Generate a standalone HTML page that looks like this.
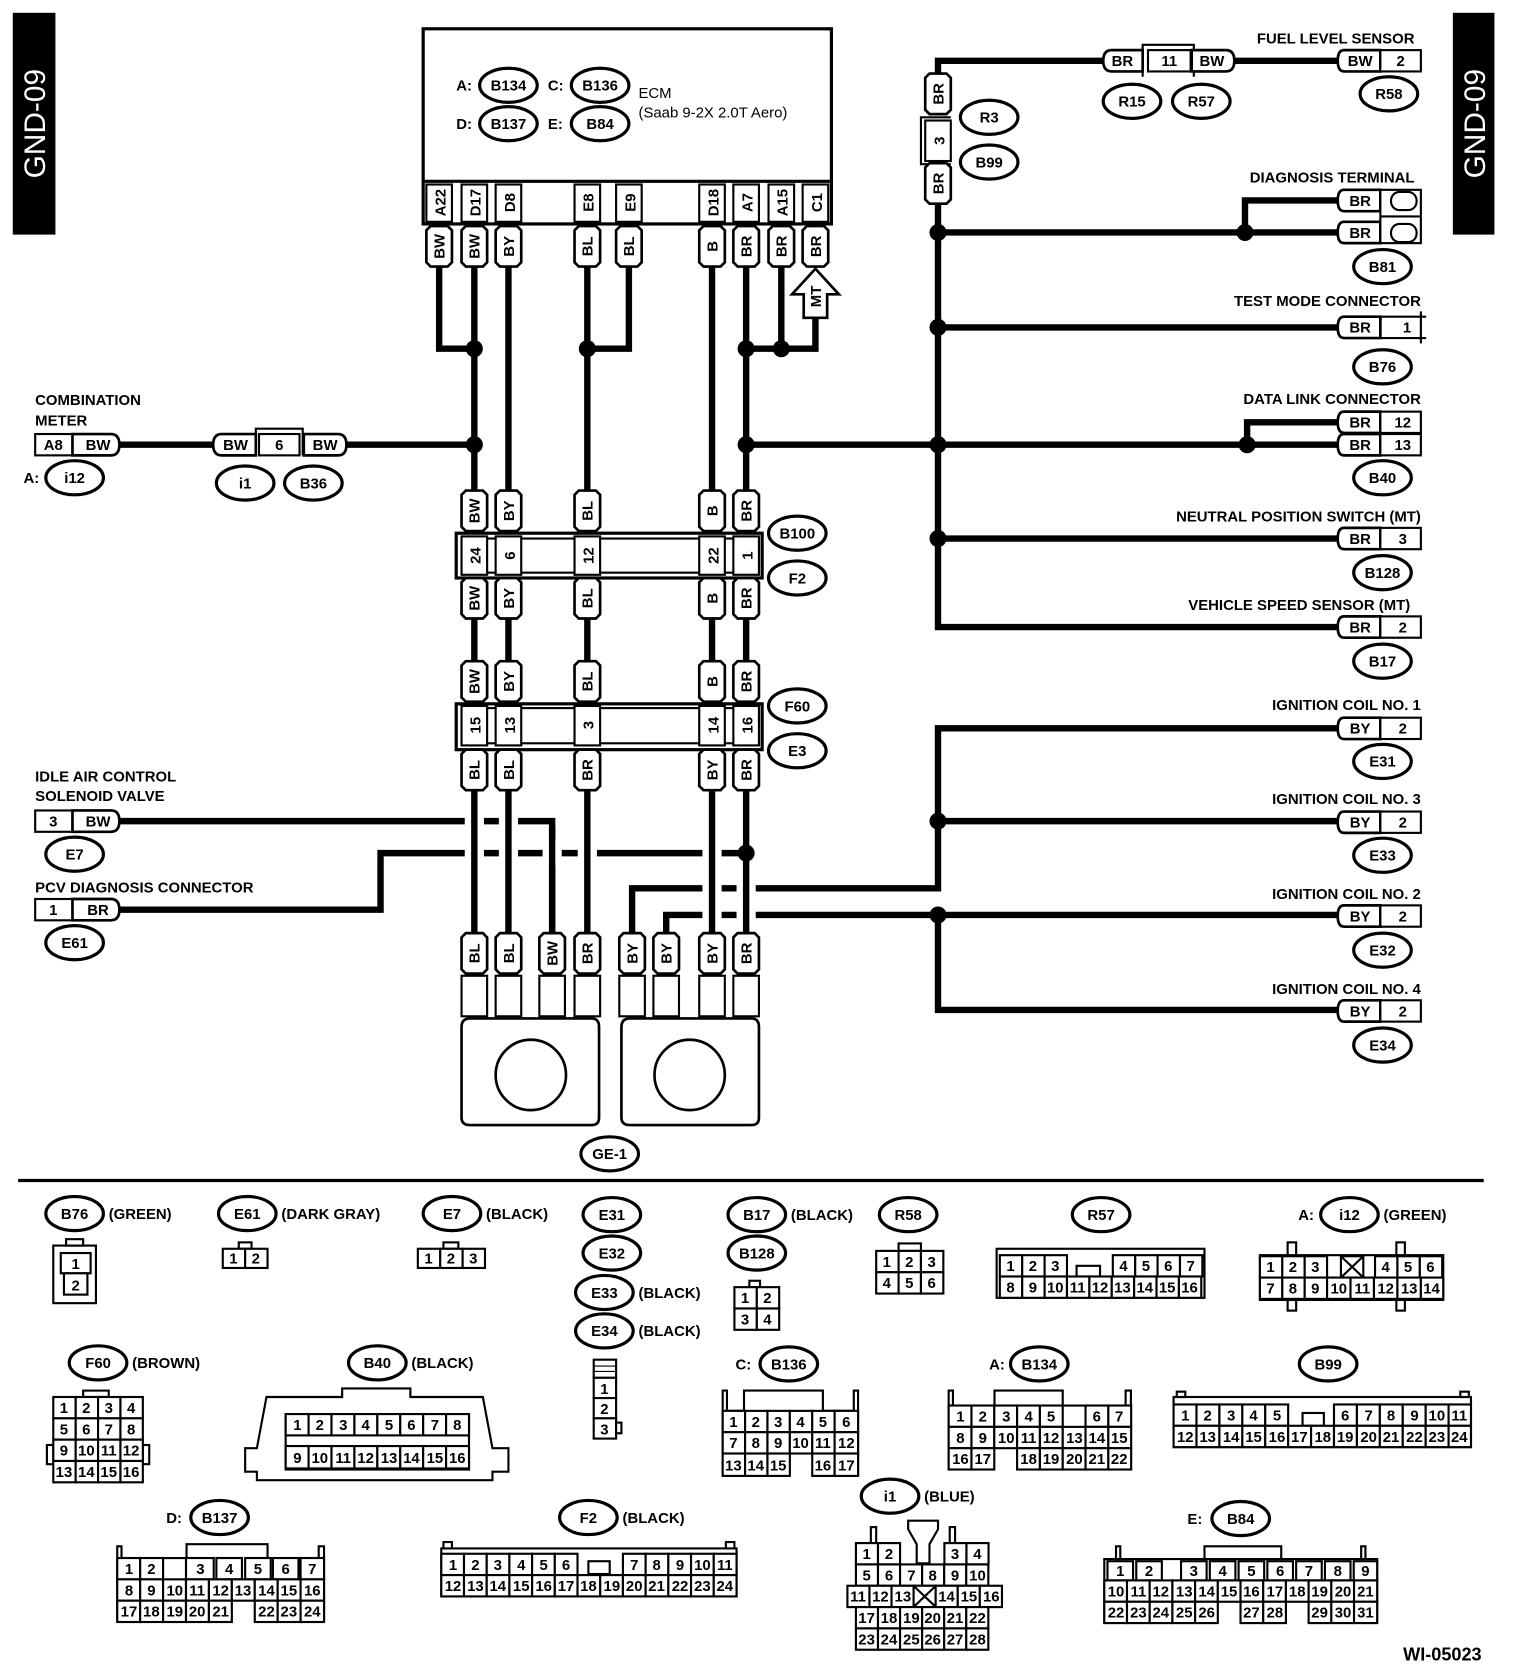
<!DOCTYPE html>
<html><head><meta charset="utf-8"><style>
html,body{margin:0;padding:0;background:#fff}
svg{display:block}
text{font-family:"Liberation Sans",sans-serif;font-weight:bold;fill:#000}
.w{fill:none;stroke:#000;stroke-width:6;stroke-linejoin:miter}
.h{fill:none;stroke:#fff;stroke-width:18}
.o{fill:#fff;stroke:#000;stroke-width:2.5}
.c{fill:#fff;stroke:#000;stroke-width:2}
.n{font-size:14px;text-anchor:middle}
.s{font-size:14px}
.e{font-size:14px;text-anchor:middle}
.r{text-anchor:end;font-size:14px}
</style></head><body>
<svg width="1520" height="1670" viewBox="0 0 1426 1566" preserveAspectRatio="none" xmlns="http://www.w3.org/2000/svg">
<defs>
<path id="vt" d="M-8,-19 H8 L12,-15 V15 L8,19 H-8 L-12,15 V-15 Z" fill="#fff" stroke="#000" stroke-width="2.5"/>
<path id="ht" d="M-14,-10 H20 V10 H-14 Q-20,10 -20,0 Q-20,-10 -14,-10 Z" fill="#fff" stroke="#000" stroke-width="2.5"/>
<ellipse id="el" rx="27" ry="16" fill="#fff" stroke="#000" stroke-width="3"/>
</defs>

<rect x="12" y="12" width="40" height="208" fill="#000"/>
<text transform="translate(42,116) rotate(-90)" text-anchor="middle" style="fill:#fff;font-weight:normal;font-size:28px">GND-09</text>
<rect x="1363" y="12" width="39" height="208" fill="#000"/>
<text transform="translate(1393,116) rotate(-90)" text-anchor="middle" style="fill:#fff;font-weight:normal;font-size:28px">GND-09</text>

<rect x="397" y="27" width="383" height="183" fill="#fff" stroke="#000" stroke-width="3"/>
<line x1="397" y1="170" x2="780" y2="170" stroke="#000" stroke-width="3"/>
<text x="428" y="85" class="s">A:</text><use href="#el" x="477" y="80"/><text x="477" y="85" class="e">B134</text>
<text x="514" y="85" class="s">C:</text><use href="#el" x="563" y="80"/><text x="563" y="85" class="e">B136</text>
<text x="428" y="121" class="s">D:</text><use href="#el" x="477" y="116"/><text x="477" y="121" class="e">B137</text>
<text x="514" y="121" class="s">E:</text><use href="#el" x="563" y="116"/><text x="563" y="121" class="e">B84</text>
<text x="599" y="92" class="s" style="font-weight:normal">ECM</text>
<text x="599" y="110" class="s" style="font-weight:normal">(Saab 9-2X 2.0T Aero)</text>
<g>
<rect x="400" y="173" width="24" height="35" class="c"/><text transform="translate(418,190) rotate(-90)" class="n">A22</text>
<rect x="433" y="173" width="24" height="35" class="c"/><text transform="translate(451,190) rotate(-90)" class="n">D17</text>
<rect x="465" y="173" width="24" height="35" class="c"/><text transform="translate(483,190) rotate(-90)" class="n">D8</text>
<rect x="539" y="173" width="24" height="35" class="c"/><text transform="translate(557,190) rotate(-90)" class="n">E8</text>
<rect x="578" y="173" width="24" height="35" class="c"/><text transform="translate(596,190) rotate(-90)" class="n">E9</text>
<rect x="656" y="173" width="24" height="35" class="c"/><text transform="translate(674,190) rotate(-90)" class="n">D18</text>
<rect x="688" y="173" width="24" height="35" class="c"/><text transform="translate(706,190) rotate(-90)" class="n">A7</text>
<rect x="721" y="173" width="24" height="35" class="c"/><text transform="translate(739,190) rotate(-90)" class="n">A15</text>
<rect x="753" y="173" width="24" height="35" class="c"/><text transform="translate(771,190) rotate(-90)" class="n">C1</text>
</g>

<path class="w" d="M412,250 V327 H445 M445,250 V460 M477,250 V460 M551,250 V460 M590,250 V327 H551 M668,250 V460 M700,250 V460 M733,250 V327 M765,296 V327 H700"/>
<path class="w" d="M445,580 V620 M477,580 V620 M551,580 V620 M668,580 V620 M700,580 V620"/>
<path class="w" d="M112,417 H200 M325,417 H445 M700,417 H1255 M1170,417 V396 H1255"/>
<path class="w" d="M1035,57 H880 V70 M880,190 V588 H1255 M880,218 H1255 M1168,218 V188 H1255 M880,307 H1255 M880,505 H1255 M1158,57 H1255"/>
<polygon points="765,252 787,276 776,276 776,298 754,298 754,276 743,276" fill="#fff" stroke="#000" stroke-width="2.5"/>
<text transform="translate(770,278) rotate(-90)" class="n">MT</text>

<path class="w" d="M112,770 H518 V875 M112,853 H357 V800 H700 M1255,683 H880 V833 H593 V875 M880,770 H1255 M625,875 V858 H1255 M880,858 V947 H1255"/>
<path class="h" d="M445,755 V870 M477,755 V870 M551,755 V870 M668,755 V870 M518,788 V812 M700,820 V870"/>
<path class="w" d="M445,741 V875 M477,741 V875 M551,741 V875 M668,741 V875 M700,741 V875 M518,775 V875"/>

<g fill="#000">
<circle cx="445" cy="327" r="8"/><circle cx="551" cy="327" r="8"/><circle cx="700" cy="327" r="8"/><circle cx="733" cy="327" r="8"/>
<circle cx="445" cy="417" r="8"/><circle cx="700" cy="417" r="8"/><circle cx="880" cy="218" r="8"/><circle cx="1168" cy="218" r="8"/>
<circle cx="880" cy="307" r="8"/><circle cx="880" cy="417" r="8"/><circle cx="1170" cy="417" r="8"/><circle cx="880" cy="505" r="8"/>
<circle cx="700" cy="800" r="8"/><circle cx="880" cy="770" r="8"/><circle cx="880" cy="858" r="8"/>
</g>

<g>
<use href="#vt" x="412" y="231"/><text transform="translate(417,231) rotate(-90)" class="n">BW</text>
<use href="#vt" x="445" y="231"/><text transform="translate(450,231) rotate(-90)" class="n">BW</text>
<use href="#vt" x="477" y="231"/><text transform="translate(482,231) rotate(-90)" class="n">BY</text>
<use href="#vt" x="551" y="231"/><text transform="translate(556,231) rotate(-90)" class="n">BL</text>
<use href="#vt" x="590" y="231"/><text transform="translate(595,231) rotate(-90)" class="n">BL</text>
<use href="#vt" x="668" y="231"/><text transform="translate(673,231) rotate(-90)" class="n">B</text>
<use href="#vt" x="700" y="231"/><text transform="translate(705,231) rotate(-90)" class="n">BR</text>
<use href="#vt" x="733" y="231"/><text transform="translate(738,231) rotate(-90)" class="n">BR</text>
<use href="#vt" x="765" y="231"/><text transform="translate(770,231) rotate(-90)" class="n">BR</text>
</g>

<g>
<use href="#vt" x="445" y="479"/><text transform="translate(450,479) rotate(-90)" class="n">BW</text>
<use href="#vt" x="477" y="479"/><text transform="translate(482,479) rotate(-90)" class="n">BY</text>
<use href="#vt" x="551" y="479"/><text transform="translate(556,479) rotate(-90)" class="n">BL</text>
<use href="#vt" x="668" y="479"/><text transform="translate(673,479) rotate(-90)" class="n">B</text>
<use href="#vt" x="700" y="479"/><text transform="translate(705,479) rotate(-90)" class="n">BR</text>
<rect x="428" y="500" width="287" height="42" fill="#fff" stroke="#000" stroke-width="3"/>
<rect x="433" y="505" width="278" height="32" fill="none" stroke="#000" stroke-width="2"/>
<rect x="433" y="503" width="24" height="36" class="c"/><text transform="translate(451,521) rotate(-90)" class="n">24</text>
<rect x="465" y="503" width="24" height="36" class="c"/><text transform="translate(483,521) rotate(-90)" class="n">6</text>
<rect x="539" y="503" width="24" height="36" class="c"/><text transform="translate(557,521) rotate(-90)" class="n">12</text>
<rect x="656" y="503" width="24" height="36" class="c"/><text transform="translate(674,521) rotate(-90)" class="n">22</text>
<rect x="688" y="503" width="24" height="36" class="c"/><text transform="translate(706,521) rotate(-90)" class="n">1</text>
<use href="#vt" x="445" y="561"/><text transform="translate(450,561) rotate(-90)" class="n">BW</text>
<use href="#vt" x="477" y="561"/><text transform="translate(482,561) rotate(-90)" class="n">BY</text>
<use href="#vt" x="551" y="561"/><text transform="translate(556,561) rotate(-90)" class="n">BL</text>
<use href="#vt" x="668" y="561"/><text transform="translate(673,561) rotate(-90)" class="n">B</text>
<use href="#vt" x="700" y="561"/><text transform="translate(705,561) rotate(-90)" class="n">BR</text>
<use href="#el" x="748" y="500"/><text x="748" y="505" class="e">B100</text>
<use href="#el" x="748" y="542"/><text x="748" y="547" class="e">F2</text>
</g>

<g>
<use href="#vt" x="445" y="639"/><text transform="translate(450,639) rotate(-90)" class="n">BW</text>
<use href="#vt" x="477" y="639"/><text transform="translate(482,639) rotate(-90)" class="n">BY</text>
<use href="#vt" x="551" y="639"/><text transform="translate(556,639) rotate(-90)" class="n">BL</text>
<use href="#vt" x="668" y="639"/><text transform="translate(673,639) rotate(-90)" class="n">B</text>
<use href="#vt" x="700" y="639"/><text transform="translate(705,639) rotate(-90)" class="n">BR</text>
<rect x="428" y="660" width="287" height="43" fill="#fff" stroke="#000" stroke-width="3"/>
<rect x="433" y="664" width="278" height="33" fill="none" stroke="#000" stroke-width="2"/>
<rect x="433" y="662" width="24" height="37" class="c"/><text transform="translate(451,680) rotate(-90)" class="n">15</text>
<rect x="465" y="662" width="24" height="37" class="c"/><text transform="translate(483,680) rotate(-90)" class="n">13</text>
<rect x="539" y="662" width="24" height="37" class="c"/><text transform="translate(557,680) rotate(-90)" class="n">3</text>
<rect x="656" y="662" width="24" height="37" class="c"/><text transform="translate(674,680) rotate(-90)" class="n">14</text>
<rect x="688" y="662" width="24" height="37" class="c"/><text transform="translate(706,680) rotate(-90)" class="n">16</text>
<use href="#vt" x="445" y="722"/><text transform="translate(450,722) rotate(-90)" class="n">BL</text>
<use href="#vt" x="477" y="722"/><text transform="translate(482,722) rotate(-90)" class="n">BL</text>
<use href="#vt" x="551" y="722"/><text transform="translate(556,722) rotate(-90)" class="n">BR</text>
<use href="#vt" x="668" y="722"/><text transform="translate(673,722) rotate(-90)" class="n">BY</text>
<use href="#vt" x="700" y="722"/><text transform="translate(705,722) rotate(-90)" class="n">BR</text>
<use href="#el" x="748" y="662"/><text x="748" y="667" class="e">F60</text>
<use href="#el" x="748" y="704"/><text x="748" y="709" class="e">E3</text>
</g>

<g>
<path d="M441,955 H555 Q562,955 562,963 V1048 Q562,1055 555,1055 H441 Q433,1055 433,1048 V963 Q433,955 441,955 Z" fill="#fff" stroke="#000" stroke-width="2.5"/>
<circle cx="498" cy="1008" r="33" fill="#fff" stroke="#000" stroke-width="2.5"/>
<path d="M591,955 H705 Q712,955 712,963 V1048 Q712,1055 705,1055 H591 Q583,1055 583,1048 V963 Q583,955 591,955 Z" fill="#fff" stroke="#000" stroke-width="2.5"/>
<circle cx="647" cy="1008" r="33" fill="#fff" stroke="#000" stroke-width="2.5"/>
<rect x="433" y="915" width="24" height="38" class="c"/><rect x="465" y="915" width="24" height="38" class="c"/>
<rect x="506" y="915" width="24" height="38" class="c"/><rect x="539" y="915" width="24" height="38" class="c"/>
<rect x="581" y="915" width="24" height="38" class="c"/><rect x="613" y="915" width="24" height="38" class="c"/>
<rect x="656" y="915" width="24" height="38" class="c"/><rect x="688" y="915" width="24" height="38" class="c"/>
<use href="#vt" x="445" y="894"/><text transform="translate(450,894) rotate(-90)" class="n">BL</text>
<use href="#vt" x="477" y="894"/><text transform="translate(482,894) rotate(-90)" class="n">BL</text>
<use href="#vt" x="518" y="894"/><text transform="translate(523,894) rotate(-90)" class="n">BW</text>
<use href="#vt" x="551" y="894"/><text transform="translate(556,894) rotate(-90)" class="n">BR</text>
<use href="#vt" x="593" y="894"/><text transform="translate(598,894) rotate(-90)" class="n">BY</text>
<use href="#vt" x="625" y="894"/><text transform="translate(630,894) rotate(-90)" class="n">BY</text>
<use href="#vt" x="668" y="894"/><text transform="translate(673,894) rotate(-90)" class="n">BY</text>
<use href="#vt" x="700" y="894"/><text transform="translate(705,894) rotate(-90)" class="n">BR</text>
<use href="#el" x="572" y="1082"/><text x="572" y="1087" class="e">GE-1</text>
</g>

<g>
<text x="33" y="380" class="s">COMBINATION</text><text x="33" y="399" class="s">METER</text>
<rect x="33" y="407" width="35" height="20" class="c"/><text x="50" y="422" class="n">A8</text>
<path d="M68,407 H104 Q112,407 112,417 Q112,427 104,427 H68 Z" class="o"/><text x="92" y="422" class="n">BW</text>
<text x="22" y="453" class="s">A:</text><use href="#el" x="70" y="448"/><text x="70" y="453" class="e">i12</text>
<path d="M208,407 H240 V427 H208 Q200,427 200,417 Q200,407 208,407 Z" class="o"/><text x="221" y="422" class="n">BW</text>
<rect x="243" y="407" width="38" height="20" class="c"/><text x="262" y="422" class="n">6</text>
<path d="M240,427 V402 H284 V427" fill="none" stroke="#000" stroke-width="2"/>
<path d="M285,407 H317 Q325,407 325,417 Q325,427 317,427 H285 Z" class="o"/><text x="305" y="422" class="n">BW</text>
<use href="#el" x="230" y="453"/><text x="230" y="458" class="e">i1</text>
<use href="#el" x="294" y="453"/><text x="294" y="458" class="e">B36</text>

<text x="33" y="733" class="s">IDLE AIR CONTROL</text><text x="33" y="751" class="s">SOLENOID VALVE</text>
<rect x="33" y="760" width="35" height="20" class="c"/><text x="50" y="775" class="n">3</text>
<path d="M68,760 H104 Q112,760 112,770 Q112,780 104,780 H68 Z" class="o"/><text x="92" y="775" class="n">BW</text>
<use href="#el" x="70" y="801"/><text x="70" y="806" class="e">E7</text>
<text x="33" y="837" class="s">PCV DIAGNOSIS CONNECTOR</text>
<rect x="33" y="843" width="35" height="20" class="c"/><text x="50" y="858" class="n">1</text>
<path d="M68,843 H104 Q112,843 112,853 Q112,863 104,863 H68 Z" class="o"/><text x="92" y="858" class="n">BR</text>
<use href="#el" x="70" y="884"/><text x="70" y="889" class="e">E61</text>
</g>

<g>
<use href="#vt" x="880" y="88"/><text transform="translate(885,88) rotate(-90)" class="n">BR</text>
<rect x="868" y="113" width="24" height="38" class="c"/><text transform="translate(886,132) rotate(-90)" class="n">3</text>
<path d="M892,110 H864 V154 H892" fill="none" stroke="#000" stroke-width="2"/>
<use href="#vt" x="880" y="172"/><text transform="translate(885,172) rotate(-90)" class="n">BR</text>
<use href="#el" x="928" y="110"/><text x="928" y="115" class="e">R3</text>
<use href="#el" x="928" y="152"/><text x="928" y="157" class="e">B99</text>
</g>

<g>
<text x="1327" y="41" class="r">FUEL LEVEL SENSOR</text>
<path d="M1043,47 H1072 V67 H1043 Q1035,67 1035,57 Q1035,47 1043,47 Z" class="o"/><text x="1053" y="62" class="n">BR</text>
<path d="M1072,72 V42 H1120 V72" fill="none" stroke="#000" stroke-width="2"/>
<rect x="1077" y="47" width="40" height="20" class="c"/><text x="1097" y="62" class="n">11</text>
<path d="M1118,47 H1150 Q1158,47 1158,57 Q1158,67 1150,67 H1118 Z" class="o"/><text x="1137" y="62" class="n">BW</text>
<use href="#ht" x="1275" y="57"/><text x="1276" y="62" class="n">BW</text>
<rect x="1295" y="47" width="38" height="20" class="c"/><text x="1314" y="62" class="n">2</text>
<use href="#el" x="1062" y="95"/><text x="1062" y="100" class="e">R15</text>
<use href="#el" x="1127" y="95"/><text x="1127" y="100" class="e">R57</text>
<use href="#el" x="1303" y="88"/><text x="1303" y="93" class="e">R58</text>
</g>

<g>
<text x="1327" y="171" class="r">DIAGNOSIS TERMINAL</text>
<use href="#ht" x="1275" y="188"/><text x="1276" y="193" class="n">BR</text>
<use href="#ht" x="1275" y="218"/><text x="1276" y="223" class="n">BR</text>
<rect x="1295" y="178" width="38" height="50" class="c"/><line x1="1295" y1="203" x2="1333" y2="203" stroke="#000" stroke-width="2"/>
<rect x="1305" y="180" width="24" height="17" rx="8" class="c"/><rect x="1305" y="210" width="24" height="17" rx="8" class="c"/>
<use href="#el" x="1297" y="250"/><text x="1297" y="255" class="e">B81</text>

<text x="1333" y="287" class="r">TEST MODE CONNECTOR</text>
<use href="#ht" x="1275" y="307"/><text x="1276" y="312" class="n">BR</text>
<path d="M1295,297 H1338 M1295,317 H1338 M1295,297 V317 M1333,292 V322" fill="none" stroke="#000" stroke-width="2"/>
<text x="1320" y="312" class="n">1</text>
<use href="#el" x="1297" y="344"/><text x="1297" y="349" class="e">B76</text>

<text x="1333" y="379" class="r">DATA LINK CONNECTOR</text>
<use href="#ht" x="1275" y="396"/><text x="1276" y="401" class="n">BR</text>
<rect x="1295" y="386" width="38" height="20" class="c"/><text x="1316" y="401" class="n">12</text>
<use href="#ht" x="1275" y="417"/><text x="1276" y="422" class="n">BR</text>
<rect x="1295" y="407" width="38" height="20" class="c"/><text x="1316" y="422" class="n">13</text>
<use href="#el" x="1297" y="448"/><text x="1297" y="453" class="e">B40</text>

<text x="1333" y="489" class="r">NEUTRAL POSITION SWITCH (MT)</text>
<use href="#ht" x="1275" y="505"/><text x="1276" y="510" class="n">BR</text>
<rect x="1295" y="495" width="38" height="20" class="c"/><text x="1316" y="510" class="n">3</text>
<use href="#el" x="1297" y="537"/><text x="1297" y="542" class="e">B128</text>

<text x="1323" y="572" class="r">VEHICLE SPEED SENSOR (MT)</text>
<use href="#ht" x="1275" y="588"/><text x="1276" y="593" class="n">BR</text>
<rect x="1295" y="578" width="38" height="20" class="c"/><text x="1316" y="593" class="n">2</text>
<use href="#el" x="1297" y="620"/><text x="1297" y="625" class="e">B17</text>

<text x="1333" y="666" class="r">IGNITION COIL NO. 1</text>
<use href="#ht" x="1275" y="683"/><text x="1276" y="688" class="n">BY</text>
<rect x="1295" y="673" width="38" height="20" class="c"/><text x="1316" y="688" class="n">2</text>
<use href="#el" x="1297" y="714"/><text x="1297" y="719" class="e">E31</text>

<text x="1333" y="754" class="r">IGNITION COIL NO. 3</text>
<use href="#ht" x="1275" y="771"/><text x="1276" y="776" class="n">BY</text>
<rect x="1295" y="761" width="38" height="20" class="c"/><text x="1316" y="776" class="n">2</text>
<use href="#el" x="1297" y="802"/><text x="1297" y="807" class="e">E33</text>

<text x="1333" y="843" class="r">IGNITION COIL NO. 2</text>
<use href="#ht" x="1275" y="859"/><text x="1276" y="864" class="n">BY</text>
<rect x="1295" y="849" width="38" height="20" class="c"/><text x="1316" y="864" class="n">2</text>
<use href="#el" x="1297" y="891"/><text x="1297" y="896" class="e">E32</text>

<text x="1333" y="932" class="r">IGNITION COIL NO. 4</text>
<use href="#ht" x="1275" y="948"/><text x="1276" y="953" class="n">BY</text>
<rect x="1295" y="938" width="38" height="20" class="c"/><text x="1316" y="953" class="n">2</text>
<use href="#el" x="1297" y="980"/><text x="1297" y="985" class="e">E34</text>
</g>

<line x1="17" y1="1107" x2="1392" y2="1107" stroke="#000" stroke-width="3"/>

<g>
<use href="#el" x="70" y="1138"/><text x="70" y="1143" class="e">B76</text><text x="102" y="1143" class="s">(GREEN)</text>
<use href="#el" x="232" y="1138"/><text x="232" y="1143" class="e">E61</text><text x="264" y="1143" class="s">(DARK GRAY)</text>
<use href="#el" x="424" y="1138"/><text x="424" y="1143" class="e">E7</text><text x="456" y="1143" class="s">(BLACK)</text>
<use href="#el" x="574" y="1139"/><text x="574" y="1144" class="e">E31</text>
<use href="#el" x="574" y="1175"/><text x="574" y="1180" class="e">E32</text>
<use href="#el" x="567" y="1212"/><text x="567" y="1217" class="e">E33</text><text x="599" y="1217" class="s">(BLACK)</text>
<use href="#el" x="567" y="1248"/><text x="567" y="1253" class="e">E34</text><text x="599" y="1253" class="s">(BLACK)</text>
<use href="#el" x="710" y="1139"/><text x="710" y="1144" class="e">B17</text><text x="742" y="1144" class="s">(BLACK)</text>
<use href="#el" x="710" y="1175"/><text x="710" y="1180" class="e">B128</text>
<use href="#el" x="852" y="1139"/><text x="852" y="1144" class="e">R58</text>
<use href="#el" x="1033" y="1139"/><text x="1033" y="1144" class="e">R57</text>
<text x="1218" y="1144" class="s">A:</text><use href="#el" x="1266" y="1139"/><text x="1266" y="1144" class="e">i12</text><text x="1298" y="1144" class="s">(GREEN)</text>
<use href="#el" x="92" y="1278"/><text x="92" y="1283" class="e">F60</text><text x="124" y="1283" class="s">(BROWN)</text>
<use href="#el" x="354" y="1278"/><text x="354" y="1283" class="e">B40</text><text x="386" y="1283" class="s">(BLACK)</text>
<text x="690" y="1284" class="s">C:</text><use href="#el" x="740" y="1279"/><text x="740" y="1284" class="e">B136</text>
<text x="928" y="1284" class="s">A:</text><use href="#el" x="975" y="1279"/><text x="975" y="1284" class="e">B134</text>
<use href="#el" x="1246" y="1279"/><text x="1246" y="1284" class="e">B99</text>
<text x="156" y="1428" class="s">D:</text><use href="#el" x="206" y="1423"/><text x="206" y="1428" class="e">B137</text>
<use href="#el" x="552" y="1423"/><text x="552" y="1428" class="e">F2</text><text x="584" y="1428" class="s">(BLACK)</text>
<use href="#el" x="835" y="1403"/><text x="835" y="1408" class="e">i1</text><text x="867" y="1408" class="s">(BLUE)</text>
<text x="1114" y="1429" class="s">E:</text><use href="#el" x="1164" y="1424"/><text x="1164" y="1429" class="e">B84</text>
<text x="1390" y="1557" class="r" style="font-size:17px">WI-05023</text>
</g>

<g class="cells">
<rect x="50" y="1168" width="40" height="54" class="c"/><rect x="62" y="1162" width="16" height="6" class="c"/>
<rect x="57" y="1175" width="28" height="19" class="c"/><text x="71" y="1190" class="n">1</text>
<rect x="60" y="1194" width="22" height="20" class="c"/><text x="71" y="1210" class="n">2</text>
<rect x="224" y="1165" width="12" height="6" class="c"/>
<rect x="209" y="1171" width="21" height="18" class="c"/><text x="219" y="1185" class="n">1</text>
<rect x="230" y="1171" width="21" height="18" class="c"/><text x="240" y="1185" class="n">2</text>
<rect x="416" y="1165" width="14" height="6" class="c"/>
<rect x="392" y="1171" width="21" height="18" class="c"/><text x="402" y="1185" class="n">1</text>
<rect x="413" y="1171" width="21" height="18" class="c"/><text x="423" y="1185" class="n">2</text>
<rect x="434" y="1171" width="21" height="18" class="c"/><text x="444" y="1185" class="n">3</text>
<rect x="557" y="1275" width="21" height="17" class="c"/><line x1="557" y1="1281" x2="578" y2="1281" stroke="#000"/><line x1="557" y1="1286" x2="578" y2="1286" stroke="#000"/>
<rect x="557" y="1292" width="21" height="19" class="c"/><text x="567" y="1307" class="n">1</text>
<rect x="557" y="1311" width="21" height="19" class="c"/><text x="567" y="1326" class="n">2</text>
<rect x="557" y="1330" width="21" height="19" class="c"/><text x="567" y="1345" class="n">3</text>
<rect x="578" y="1334" width="5" height="10" class="c"/>
<rect x="703" y="1201" width="10" height="6" class="c"/>
<rect x="689" y="1207" width="21" height="20" class="c"/><text x="699" y="1222" class="n">1</text>
<rect x="710" y="1207" width="21" height="20" class="c"/><text x="720" y="1222" class="n">2</text>
<rect x="689" y="1227" width="21" height="20" class="c"/><text x="699" y="1242" class="n">3</text>
<rect x="710" y="1227" width="21" height="20" class="c"/><text x="720" y="1242" class="n">4</text>
<rect x="843" y="1166" width="21" height="7" class="c"/>
<rect x="822" y="1173" width="21" height="20" class="c"/><text x="832" y="1188" class="n">1</text>
<rect x="843" y="1173" width="21" height="20" class="c"/><text x="853" y="1188" class="n">2</text>
<rect x="864" y="1173" width="21" height="20" class="c"/><text x="874" y="1188" class="n">3</text>
<rect x="822" y="1193" width="21" height="20" class="c"/><text x="832" y="1208" class="n">4</text>
<rect x="843" y="1193" width="21" height="20" class="c"/><text x="853" y="1208" class="n">5</text>
<rect x="864" y="1193" width="21" height="20" class="c"/><text x="874" y="1208" class="n">6</text>
<rect x="935" y="1171" width="195" height="46" class="c"/>
<rect x="1010" y="1187" width="22" height="10" class="c"/>
<g>
<rect x="938" y="1177" width="21" height="20" class="c"/><text x="948" y="1192" class="n">1</text>
<rect x="959" y="1177" width="21" height="20" class="c"/><text x="969" y="1192" class="n">2</text>
<rect x="980" y="1177" width="21" height="20" class="c"/><text x="990" y="1192" class="n">3</text>
<rect x="1044" y="1177" width="21" height="20" class="c"/><text x="1054" y="1192" class="n">4</text>
<rect x="1065" y="1177" width="21" height="20" class="c"/><text x="1075" y="1192" class="n">5</text>
<rect x="1086" y="1177" width="21" height="20" class="c"/><text x="1096" y="1192" class="n">6</text>
<rect x="1107" y="1177" width="21" height="20" class="c"/><text x="1117" y="1192" class="n">7</text>
</g>
<g>
<rect x="938" y="1197" width="21" height="20" class="c"/><text x="948" y="1212" class="n">8</text>
<rect x="959" y="1197" width="21" height="20" class="c"/><text x="969" y="1212" class="n">9</text>
<rect x="980" y="1197" width="21" height="20" class="c"/><text x="990" y="1212" class="n">10</text>
<rect x="1001" y="1197" width="21" height="20" class="c"/><text x="1011" y="1212" class="n">11</text>
<rect x="1022" y="1197" width="21" height="20" class="c"/><text x="1032" y="1212" class="n">12</text>
<rect x="1043" y="1197" width="21" height="20" class="c"/><text x="1053" y="1212" class="n">13</text>
<rect x="1064" y="1197" width="21" height="20" class="c"/><text x="1074" y="1212" class="n">14</text>
<rect x="1085" y="1197" width="21" height="20" class="c"/><text x="1095" y="1212" class="n">15</text>
<rect x="1106" y="1197" width="21" height="20" class="c"/><text x="1116" y="1212" class="n">16</text>
</g>
<rect x="1182" y="1177" width="172" height="42" class="c"/>
<rect x="1208" y="1165" width="8" height="12" class="c"/><rect x="1208" y="1219" width="8" height="10" class="c"/>
<rect x="1310" y="1165" width="8" height="12" class="c"/><rect x="1310" y="1219" width="8" height="10" class="c"/>
<rect x="1182" y="1178" width="21" height="20" class="c"/><text x="1192" y="1193" class="n">1</text>
<rect x="1203" y="1178" width="21" height="20" class="c"/><text x="1213" y="1193" class="n">2</text>
<rect x="1224" y="1178" width="21" height="20" class="c"/><text x="1234" y="1193" class="n">3</text>
<rect x="1258" y="1178" width="21" height="20" class="c"/><path d="M1258,1178 L1279,1198 M1279,1178 L1258,1198" stroke="#000" stroke-width="2"/>
<rect x="1290" y="1178" width="21" height="20" class="c"/><text x="1300" y="1193" class="n">4</text>
<rect x="1311" y="1178" width="21" height="20" class="c"/><text x="1321" y="1193" class="n">5</text>
<rect x="1332" y="1178" width="21" height="20" class="c"/><text x="1342" y="1193" class="n">6</text>
<rect x="1182" y="1198" width="21" height="20" class="c"/><text x="1192" y="1213" class="n">7</text>
<rect x="1203" y="1198" width="21" height="20" class="c"/><text x="1213" y="1213" class="n">8</text>
<rect x="1224" y="1198" width="21" height="20" class="c"/><text x="1234" y="1213" class="n">9</text>
<rect x="1245" y="1198" width="22" height="20" class="c"/><text x="1256" y="1213" class="n">10</text>
<rect x="1267" y="1198" width="22" height="20" class="c"/><text x="1278" y="1213" class="n">11</text>
<rect x="1289" y="1198" width="22" height="20" class="c"/><text x="1300" y="1213" class="n">12</text>
<rect x="1311" y="1198" width="22" height="20" class="c"/><text x="1322" y="1213" class="n">13</text>
<rect x="1333" y="1198" width="21" height="20" class="c"/><text x="1343" y="1213" class="n">14</text>

<rect x="78" y="1304" width="24" height="6" class="c"/>
<rect x="44" y="1355" width="6" height="18" class="c"/><rect x="134" y="1355" width="6" height="18" class="c"/>
<rect x="50" y="1310" width="21" height="20" class="c"/><text x="60" y="1325" class="n">1</text>
<rect x="71" y="1310" width="21" height="20" class="c"/><text x="81" y="1325" class="n">2</text>
<rect x="92" y="1310" width="21" height="20" class="c"/><text x="102" y="1325" class="n">3</text>
<rect x="113" y="1310" width="21" height="20" class="c"/><text x="123" y="1325" class="n">4</text>
<rect x="50" y="1330" width="21" height="20" class="c"/><text x="60" y="1345" class="n">5</text>
<rect x="71" y="1330" width="21" height="20" class="c"/><text x="81" y="1345" class="n">6</text>
<rect x="92" y="1330" width="21" height="20" class="c"/><text x="102" y="1345" class="n">7</text>
<rect x="113" y="1330" width="21" height="20" class="c"/><text x="123" y="1345" class="n">8</text>
<rect x="50" y="1350" width="21" height="20" class="c"/><text x="60" y="1365" class="n">9</text>
<rect x="71" y="1350" width="21" height="20" class="c"/><text x="81" y="1365" class="n">10</text>
<rect x="92" y="1350" width="21" height="20" class="c"/><text x="102" y="1365" class="n">11</text>
<rect x="113" y="1350" width="21" height="20" class="c"/><text x="123" y="1365" class="n">12</text>
<rect x="50" y="1370" width="21" height="20" class="c"/><text x="60" y="1385" class="n">13</text>
<rect x="71" y="1370" width="21" height="20" class="c"/><text x="81" y="1385" class="n">14</text>
<rect x="92" y="1370" width="21" height="20" class="c"/><text x="102" y="1385" class="n">15</text>
<rect x="113" y="1370" width="21" height="20" class="c"/><text x="123" y="1385" class="n">16</text>

<path d="M321,1310 V1302 H385 V1310 H453 L462,1358 H477 V1380 H462 V1388 H241 V1380 H230 V1358 H241 L250,1310 Z" class="c"/>
<rect x="268" y="1326" width="172" height="52" class="c"/>
<g>
<rect x="268" y="1326" width="21.5" height="20" class="c"/><text x="279" y="1341" class="n">1</text>
<rect x="289.5" y="1326" width="21.5" height="20" class="c"/><text x="300" y="1341" class="n">2</text>
<rect x="311" y="1326" width="21.5" height="20" class="c"/><text x="322" y="1341" class="n">3</text>
<rect x="332.5" y="1326" width="21.5" height="20" class="c"/><text x="343" y="1341" class="n">4</text>
<rect x="354" y="1326" width="21.5" height="20" class="c"/><text x="365" y="1341" class="n">5</text>
<rect x="375.5" y="1326" width="21.5" height="20" class="c"/><text x="386" y="1341" class="n">6</text>
<rect x="397" y="1326" width="21.5" height="20" class="c"/><text x="408" y="1341" class="n">7</text>
<rect x="418.5" y="1326" width="21.5" height="20" class="c"/><text x="429" y="1341" class="n">8</text>
<rect x="268" y="1356" width="21.5" height="21" class="c"/><text x="279" y="1372" class="n">9</text>
<rect x="289.5" y="1356" width="21.5" height="21" class="c"/><text x="300" y="1372" class="n">10</text>
<rect x="311" y="1356" width="21.5" height="21" class="c"/><text x="322" y="1372" class="n">11</text>
<rect x="332.5" y="1356" width="21.5" height="21" class="c"/><text x="343" y="1372" class="n">12</text>
<rect x="354" y="1356" width="21.5" height="21" class="c"/><text x="365" y="1372" class="n">13</text>
<rect x="375.5" y="1356" width="21.5" height="21" class="c"/><text x="386" y="1372" class="n">14</text>
<rect x="397" y="1356" width="21.5" height="21" class="c"/><text x="408" y="1372" class="n">15</text>
<rect x="418.5" y="1356" width="21.5" height="21" class="c"/><text x="429" y="1372" class="n">16</text>
</g>

<path d="M678,1384 V1304 H682 V1323 H698 V1304 H772 V1323 H801 V1304 H805 V1384" class="c"/>
<rect x="678" y="1323" width="21" height="20" class="c"/><text x="688" y="1338" class="n">1</text>
<rect x="699" y="1323" width="21" height="20" class="c"/><text x="709" y="1338" class="n">2</text>
<rect x="720" y="1323" width="21" height="20" class="c"/><text x="730" y="1338" class="n">3</text>
<rect x="741" y="1323" width="21" height="20" class="c"/><text x="751" y="1338" class="n">4</text>
<rect x="762" y="1323" width="21" height="20" class="c"/><text x="772" y="1338" class="n">5</text>
<rect x="783" y="1323" width="22" height="20" class="c"/><text x="794" y="1338" class="n">6</text>
<rect x="678" y="1343" width="21" height="20" class="c"/><text x="688" y="1358" class="n">7</text>
<rect x="699" y="1343" width="21" height="20" class="c"/><text x="709" y="1358" class="n">8</text>
<rect x="720" y="1343" width="21" height="20" class="c"/><text x="730" y="1358" class="n">9</text>
<rect x="741" y="1343" width="21" height="20" class="c"/><text x="751" y="1358" class="n">10</text>
<rect x="762" y="1343" width="21" height="20" class="c"/><text x="772" y="1358" class="n">11</text>
<rect x="783" y="1343" width="22" height="20" class="c"/><text x="794" y="1358" class="n">12</text>
<rect x="678" y="1363" width="21" height="21" class="c"/><text x="688" y="1379" class="n">13</text>
<rect x="699" y="1363" width="21" height="21" class="c"/><text x="709" y="1379" class="n">14</text>
<rect x="720" y="1363" width="21" height="21" class="c"/><text x="730" y="1379" class="n">15</text>
<rect x="762" y="1363" width="21" height="21" class="c"/><text x="772" y="1379" class="n">16</text>
<rect x="783" y="1363" width="22" height="21" class="c"/><text x="794" y="1379" class="n">17</text>

<path d="M890,1378 V1304 H894 V1318 H933 V1304 H997 V1318 H1056 V1304 H1061 V1378" class="c"/>
<rect x="890" y="1318" width="21.4" height="20" class="c"/><text x="901" y="1333" class="n">1</text>
<rect x="911.4" y="1318" width="21.4" height="20" class="c"/><text x="922" y="1333" class="n">2</text>
<rect x="932.8" y="1318" width="21.4" height="20" class="c"/><text x="944" y="1333" class="n">3</text>
<rect x="954.2" y="1318" width="21.4" height="20" class="c"/><text x="965" y="1333" class="n">4</text>
<rect x="975.6" y="1318" width="21.4" height="20" class="c"/><text x="986" y="1333" class="n">5</text>
<rect x="1018.4" y="1318" width="21.4" height="20" class="c"/><text x="1029" y="1333" class="n">6</text>
<rect x="1039.8" y="1318" width="21.4" height="20" class="c"/><text x="1050" y="1333" class="n">7</text>
<rect x="890" y="1338" width="21.4" height="20" class="c"/><text x="901" y="1353" class="n">8</text>
<rect x="911.4" y="1338" width="21.4" height="20" class="c"/><text x="922" y="1353" class="n">9</text>
<rect x="932.8" y="1338" width="21.4" height="20" class="c"/><text x="944" y="1353" class="n">10</text>
<rect x="954.2" y="1338" width="21.4" height="20" class="c"/><text x="965" y="1353" class="n">11</text>
<rect x="975.6" y="1338" width="21.4" height="20" class="c"/><text x="986" y="1353" class="n">12</text>
<rect x="997" y="1338" width="21.4" height="20" class="c"/><text x="1008" y="1353" class="n">13</text>
<rect x="1018.4" y="1338" width="21.4" height="20" class="c"/><text x="1029" y="1353" class="n">14</text>
<rect x="1039.8" y="1338" width="21.4" height="20" class="c"/><text x="1050" y="1353" class="n">15</text>
<rect x="890" y="1358" width="21.4" height="20" class="c"/><text x="901" y="1373" class="n">16</text>
<rect x="911.4" y="1358" width="21.4" height="20" class="c"/><text x="922" y="1373" class="n">17</text>
<rect x="954.2" y="1358" width="21.4" height="20" class="c"/><text x="965" y="1373" class="n">18</text>
<rect x="975.6" y="1358" width="21.4" height="20" class="c"/><text x="986" y="1373" class="n">19</text>
<rect x="997" y="1358" width="21.4" height="20" class="c"/><text x="1008" y="1373" class="n">20</text>
<rect x="1018.4" y="1358" width="21.4" height="20" class="c"/><text x="1029" y="1373" class="n">21</text>
<rect x="1039.8" y="1358" width="21.4" height="20" class="c"/><text x="1050" y="1373" class="n">22</text>

<rect x="1101" y="1310" width="279" height="47" class="c"/>
<rect x="1104" y="1305" width="8" height="5" class="c"/><rect x="1370" y="1305" width="8" height="5" class="c"/>
<rect x="1222" y="1325" width="20" height="12" class="c"/>
<rect x="1101" y="1317" width="21.5" height="20" class="c"/><text x="1112" y="1332" class="n">1</text>
<rect x="1122.5" y="1317" width="21.5" height="20" class="c"/><text x="1133" y="1332" class="n">2</text>
<rect x="1144" y="1317" width="21.5" height="20" class="c"/><text x="1155" y="1332" class="n">3</text>
<rect x="1165.5" y="1317" width="21.5" height="20" class="c"/><text x="1176" y="1332" class="n">4</text>
<rect x="1187" y="1317" width="21.5" height="20" class="c"/><text x="1198" y="1332" class="n">5</text>
<rect x="1251.5" y="1317" width="21.5" height="20" class="c"/><text x="1262" y="1332" class="n">6</text>
<rect x="1273" y="1317" width="21.5" height="20" class="c"/><text x="1284" y="1332" class="n">7</text>
<rect x="1294.5" y="1317" width="21.5" height="20" class="c"/><text x="1305" y="1332" class="n">8</text>
<rect x="1316" y="1317" width="21.5" height="20" class="c"/><text x="1327" y="1332" class="n">9</text>
<rect x="1337.5" y="1317" width="21.5" height="20" class="c"/><text x="1348" y="1332" class="n">10</text>
<rect x="1359" y="1317" width="21" height="20" class="c"/><text x="1369" y="1332" class="n">11</text>
<rect x="1101" y="1337" width="21.5" height="20" class="c"/><text x="1112" y="1352" class="n">12</text>
<rect x="1122.5" y="1337" width="21.5" height="20" class="c"/><text x="1133" y="1352" class="n">13</text>
<rect x="1144" y="1337" width="21.5" height="20" class="c"/><text x="1155" y="1352" class="n">14</text>
<rect x="1165.5" y="1337" width="21.5" height="20" class="c"/><text x="1176" y="1352" class="n">15</text>
<rect x="1187" y="1337" width="21.5" height="20" class="c"/><text x="1198" y="1352" class="n">16</text>
<rect x="1208.5" y="1337" width="21.5" height="20" class="c"/><text x="1219" y="1352" class="n">17</text>
<rect x="1230" y="1337" width="21.5" height="20" class="c"/><text x="1241" y="1352" class="n">18</text>
<rect x="1251.5" y="1337" width="21.5" height="20" class="c"/><text x="1262" y="1352" class="n">19</text>
<rect x="1273" y="1337" width="21.5" height="20" class="c"/><text x="1284" y="1352" class="n">20</text>
<rect x="1294.5" y="1337" width="21.5" height="20" class="c"/><text x="1305" y="1352" class="n">21</text>
<rect x="1316" y="1337" width="21.5" height="20" class="c"/><text x="1327" y="1352" class="n">22</text>
<rect x="1337.5" y="1337" width="21.5" height="20" class="c"/><text x="1348" y="1352" class="n">23</text>
<rect x="1359" y="1337" width="21" height="20" class="c"/><text x="1369" y="1352" class="n">24</text>

<path d="M110,1521 V1450 H114 V1461 H175 V1448 H251 V1461 H299 V1450 H304 V1521" class="c"/>
<rect x="110" y="1461" width="21.5" height="20" class="c"/><text x="121" y="1476" class="n">1</text>
<rect x="131.5" y="1461" width="21.5" height="20" class="c"/><text x="142" y="1476" class="n">2</text>
<rect x="174.5" y="1461" width="26" height="20" class="c"/><text x="188" y="1476" class="n">3</text>
<rect x="203" y="1461" width="24" height="20" class="c"/><text x="215" y="1476" class="n">4</text>
<rect x="230" y="1461" width="24" height="20" class="c"/><text x="242" y="1476" class="n">5</text>
<rect x="256" y="1461" width="24" height="20" class="c"/><text x="268" y="1476" class="n">6</text>
<rect x="282" y="1461" width="22" height="20" class="c"/><text x="293" y="1476" class="n">7</text>
<rect x="110" y="1481" width="21.5" height="20" class="c"/><text x="121" y="1496" class="n">8</text>
<rect x="131.5" y="1481" width="21.5" height="20" class="c"/><text x="142" y="1496" class="n">9</text>
<rect x="153" y="1481" width="21.5" height="20" class="c"/><text x="164" y="1496" class="n">10</text>
<rect x="174.5" y="1481" width="21.5" height="20" class="c"/><text x="185" y="1496" class="n">11</text>
<rect x="196" y="1481" width="21.5" height="20" class="c"/><text x="207" y="1496" class="n">12</text>
<rect x="217.5" y="1481" width="21.5" height="20" class="c"/><text x="228" y="1496" class="n">13</text>
<rect x="239" y="1481" width="21.5" height="20" class="c"/><text x="250" y="1496" class="n">14</text>
<rect x="260.5" y="1481" width="21.5" height="20" class="c"/><text x="271" y="1496" class="n">15</text>
<rect x="282" y="1481" width="22" height="20" class="c"/><text x="293" y="1496" class="n">16</text>
<rect x="110" y="1501" width="21.5" height="20" class="c"/><text x="121" y="1516" class="n">17</text>
<rect x="131.5" y="1501" width="21.5" height="20" class="c"/><text x="142" y="1516" class="n">18</text>
<rect x="153" y="1501" width="21.5" height="20" class="c"/><text x="164" y="1516" class="n">19</text>
<rect x="174.5" y="1501" width="21.5" height="20" class="c"/><text x="185" y="1516" class="n">20</text>
<rect x="196" y="1501" width="21.5" height="20" class="c"/><text x="207" y="1516" class="n">21</text>
<rect x="239" y="1501" width="21.5" height="20" class="c"/><text x="250" y="1516" class="n">22</text>
<rect x="260.5" y="1501" width="21.5" height="20" class="c"/><text x="271" y="1516" class="n">23</text>
<rect x="282" y="1501" width="22" height="20" class="c"/><text x="293" y="1516" class="n">24</text>

<rect x="414" y="1452" width="277" height="45" class="c"/>
<rect x="416" y="1446" width="8" height="6" class="c"/><rect x="681" y="1446" width="8" height="6" class="c"/>
<rect x="552" y="1464" width="20" height="12" class="c"/>
<rect x="414" y="1457" width="21.3" height="20" class="c"/><text x="425" y="1472" class="n">1</text>
<rect x="435.3" y="1457" width="21.3" height="20" class="c"/><text x="446" y="1472" class="n">2</text>
<rect x="456.6" y="1457" width="21.3" height="20" class="c"/><text x="467" y="1472" class="n">3</text>
<rect x="477.9" y="1457" width="21.3" height="20" class="c"/><text x="489" y="1472" class="n">4</text>
<rect x="499.2" y="1457" width="21.3" height="20" class="c"/><text x="510" y="1472" class="n">5</text>
<rect x="520.5" y="1457" width="21.3" height="20" class="c"/><text x="531" y="1472" class="n">6</text>
<rect x="584.4" y="1457" width="21.3" height="20" class="c"/><text x="595" y="1472" class="n">7</text>
<rect x="605.7" y="1457" width="21.3" height="20" class="c"/><text x="616" y="1472" class="n">8</text>
<rect x="627" y="1457" width="21.3" height="20" class="c"/><text x="638" y="1472" class="n">9</text>
<rect x="648.3" y="1457" width="21.3" height="20" class="c"/><text x="659" y="1472" class="n">10</text>
<rect x="669.6" y="1457" width="21.4" height="20" class="c"/><text x="680" y="1472" class="n">11</text>
<rect x="414" y="1477" width="21.3" height="20" class="c"/><text x="425" y="1492" class="n">12</text>
<rect x="435.3" y="1477" width="21.3" height="20" class="c"/><text x="446" y="1492" class="n">13</text>
<rect x="456.6" y="1477" width="21.3" height="20" class="c"/><text x="467" y="1492" class="n">14</text>
<rect x="477.9" y="1477" width="21.3" height="20" class="c"/><text x="489" y="1492" class="n">15</text>
<rect x="499.2" y="1477" width="21.3" height="20" class="c"/><text x="510" y="1492" class="n">16</text>
<rect x="520.5" y="1477" width="21.3" height="20" class="c"/><text x="531" y="1492" class="n">17</text>
<rect x="541.8" y="1477" width="21.3" height="20" class="c"/><text x="552" y="1492" class="n">18</text>
<rect x="563.1" y="1477" width="21.3" height="20" class="c"/><text x="574" y="1492" class="n">19</text>
<rect x="584.4" y="1477" width="21.3" height="20" class="c"/><text x="595" y="1492" class="n">20</text>
<rect x="605.7" y="1477" width="21.3" height="20" class="c"/><text x="616" y="1492" class="n">21</text>
<rect x="627" y="1477" width="21.3" height="20" class="c"/><text x="638" y="1492" class="n">22</text>
<rect x="648.3" y="1477" width="21.3" height="20" class="c"/><text x="659" y="1492" class="n">23</text>
<rect x="669.6" y="1477" width="21.4" height="20" class="c"/><text x="680" y="1492" class="n">24</text>

<path d="M852,1426 H880 V1434 L872,1448 V1466 H860 V1448 L852,1434 Z" class="c"/>
<rect x="817" y="1432" width="5" height="15" class="c"/><rect x="891" y="1432" width="5" height="15" class="c"/>
<rect x="803" y="1447" width="20.7" height="20" class="c"/><text x="813" y="1462" class="n">1</text>
<rect x="823.7" y="1447" width="20.7" height="20" class="c"/><text x="834" y="1462" class="n">2</text>
<rect x="886" y="1447" width="20.7" height="20" class="c"/><text x="896" y="1462" class="n">3</text>
<rect x="906.7" y="1447" width="20.7" height="20" class="c"/><text x="917" y="1462" class="n">4</text>
<rect x="803" y="1467" width="20.7" height="20" class="c"/><text x="813" y="1482" class="n">5</text>
<rect x="823.7" y="1467" width="20.7" height="20" class="c"/><text x="834" y="1482" class="n">6</text>
<rect x="844.4" y="1467" width="20.7" height="20" class="c"/><text x="855" y="1482" class="n">7</text>
<rect x="865.1" y="1467" width="20.7" height="20" class="c"/><text x="875" y="1482" class="n">8</text>
<rect x="885.8" y="1467" width="20.7" height="20" class="c"/><text x="896" y="1482" class="n">9</text>
<rect x="906.5" y="1467" width="20.7" height="20" class="c"/><text x="917" y="1482" class="n">10</text>
<rect x="795" y="1487" width="20.7" height="20" class="c"/><text x="805" y="1502" class="n">11</text>
<rect x="815.7" y="1487" width="20.7" height="20" class="c"/><text x="826" y="1502" class="n">12</text>
<rect x="836.4" y="1487" width="20.7" height="20" class="c"/><text x="847" y="1502" class="n">13</text>
<rect x="857.1" y="1487" width="20.7" height="20" class="c"/><path d="M857,1487 L878,1507 M878,1487 L857,1507" stroke="#000" stroke-width="2"/>
<rect x="877.8" y="1487" width="20.7" height="20" class="c"/><text x="888" y="1502" class="n">14</text>
<rect x="898.5" y="1487" width="20.7" height="20" class="c"/><text x="909" y="1502" class="n">15</text>
<rect x="919.2" y="1487" width="20.8" height="20" class="c"/><text x="930" y="1502" class="n">16</text>
<rect x="803" y="1507" width="20.7" height="20" class="c"/><text x="813" y="1522" class="n">17</text>
<rect x="823.7" y="1507" width="20.7" height="20" class="c"/><text x="834" y="1522" class="n">18</text>
<rect x="844.4" y="1507" width="20.7" height="20" class="c"/><text x="855" y="1522" class="n">19</text>
<rect x="865.1" y="1507" width="20.7" height="20" class="c"/><text x="875" y="1522" class="n">20</text>
<rect x="885.8" y="1507" width="20.7" height="20" class="c"/><text x="896" y="1522" class="n">21</text>
<rect x="906.5" y="1507" width="20.7" height="20" class="c"/><text x="917" y="1522" class="n">22</text>
<rect x="803" y="1527" width="20.7" height="20" class="c"/><text x="813" y="1542" class="n">23</text>
<rect x="823.7" y="1527" width="20.7" height="20" class="c"/><text x="834" y="1542" class="n">24</text>
<rect x="844.4" y="1527" width="20.7" height="20" class="c"/><text x="855" y="1542" class="n">25</text>
<rect x="865.1" y="1527" width="20.7" height="20" class="c"/><text x="875" y="1542" class="n">26</text>
<rect x="885.8" y="1527" width="20.7" height="20" class="c"/><text x="896" y="1542" class="n">27</text>
<rect x="906.5" y="1527" width="20.7" height="20" class="c"/><text x="917" y="1542" class="n">28</text>

<path d="M1036,1522 V1462 H1292 V1522" class="c"/>
<rect x="1047" y="1450" width="4" height="12" class="c"/><rect x="1277" y="1450" width="4" height="12" class="c"/>
<rect x="1130" y="1450" width="72" height="12" class="c"/>
<rect x="1039" y="1464" width="24" height="18" class="c"/><text x="1051" y="1478" class="n">1</text>
<rect x="1066" y="1464" width="24" height="18" class="c"/><text x="1078" y="1478" class="n">2</text>
<rect x="1108" y="1464" width="24" height="18" class="c"/><text x="1120" y="1478" class="n">3</text>
<rect x="1135" y="1464" width="24" height="18" class="c"/><text x="1147" y="1478" class="n">4</text>
<rect x="1162" y="1464" width="24" height="18" class="c"/><text x="1174" y="1478" class="n">5</text>
<rect x="1189" y="1464" width="24" height="18" class="c"/><text x="1201" y="1478" class="n">6</text>
<rect x="1216" y="1464" width="24" height="18" class="c"/><text x="1228" y="1478" class="n">7</text>
<rect x="1243" y="1464" width="24" height="18" class="c"/><text x="1255" y="1478" class="n">8</text>
<rect x="1270" y="1464" width="22" height="18" class="c"/><text x="1281" y="1478" class="n">9</text>
<rect x="1036" y="1482" width="21.3" height="20" class="c"/><text x="1047" y="1497" class="n">10</text>
<rect x="1057.3" y="1482" width="21.3" height="20" class="c"/><text x="1068" y="1497" class="n">11</text>
<rect x="1078.6" y="1482" width="21.3" height="20" class="c"/><text x="1089" y="1497" class="n">12</text>
<rect x="1099.9" y="1482" width="21.3" height="20" class="c"/><text x="1111" y="1497" class="n">13</text>
<rect x="1121.2" y="1482" width="21.3" height="20" class="c"/><text x="1132" y="1497" class="n">14</text>
<rect x="1142.5" y="1482" width="21.3" height="20" class="c"/><text x="1153" y="1497" class="n">15</text>
<rect x="1163.8" y="1482" width="21.3" height="20" class="c"/><text x="1174" y="1497" class="n">16</text>
<rect x="1185.1" y="1482" width="21.3" height="20" class="c"/><text x="1196" y="1497" class="n">17</text>
<rect x="1206.4" y="1482" width="21.3" height="20" class="c"/><text x="1217" y="1497" class="n">18</text>
<rect x="1227.7" y="1482" width="21.3" height="20" class="c"/><text x="1238" y="1497" class="n">19</text>
<rect x="1249" y="1482" width="21.3" height="20" class="c"/><text x="1260" y="1497" class="n">20</text>
<rect x="1270.3" y="1482" width="21.7" height="20" class="c"/><text x="1281" y="1497" class="n">21</text>
<rect x="1036" y="1502" width="21.3" height="20" class="c"/><text x="1047" y="1517" class="n">22</text>
<rect x="1057.3" y="1502" width="21.3" height="20" class="c"/><text x="1068" y="1517" class="n">23</text>
<rect x="1078.6" y="1502" width="21.3" height="20" class="c"/><text x="1089" y="1517" class="n">24</text>
<rect x="1099.9" y="1502" width="21.3" height="20" class="c"/><text x="1111" y="1517" class="n">25</text>
<rect x="1121.2" y="1502" width="21.3" height="20" class="c"/><text x="1132" y="1517" class="n">26</text>
<rect x="1163.8" y="1502" width="21.3" height="20" class="c"/><text x="1174" y="1517" class="n">27</text>
<rect x="1185.1" y="1502" width="21.3" height="20" class="c"/><text x="1196" y="1517" class="n">28</text>
<rect x="1227.7" y="1502" width="21.3" height="20" class="c"/><text x="1238" y="1517" class="n">29</text>
<rect x="1249" y="1502" width="21.3" height="20" class="c"/><text x="1260" y="1517" class="n">30</text>
<rect x="1270.3" y="1502" width="21.7" height="20" class="c"/><text x="1281" y="1517" class="n">31</text>
</g>
</svg>
</body></html>
